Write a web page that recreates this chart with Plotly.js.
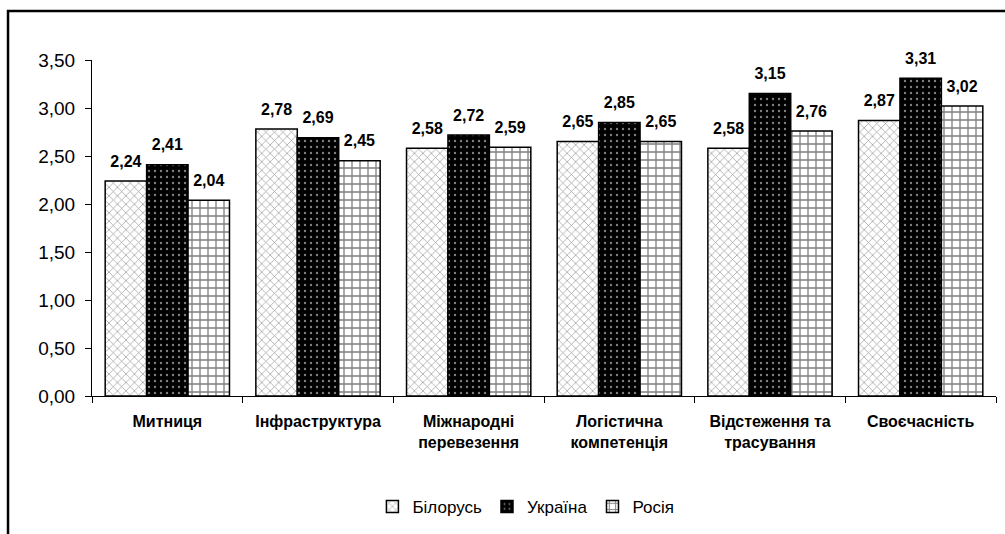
<!DOCTYPE html>
<html>
<head>
<meta charset="utf-8">
<script src="https://cdn.plot.ly/plotly-3.0.1.min.js"></script>
<style>
  html, body { margin: 0; padding: 0; background: #fff; }
  #chart { width: 1005px; height: 534px; }
</style>
</head>
<body>
<div id="chart"></div>
<script>
const categories = ["Митниця", "Інфраструктура", "Міжнародні<br>перевезення", "Логістична<br>компетенція", "Відстеження та<br>трасування", "Своєчасність"];
const seriesNames = ["Білорусь", "Україна", "Росія"];
const belarus = [2.24, 2.78, 2.58, 2.65, 2.58, 2.87];
const ukraine = [2.41, 2.69, 2.72, 2.85, 3.15, 3.31];
const russia  = [2.04, 2.45, 2.59, 2.65, 2.76, 3.02];
const yTicks = [0, 0.5, 1, 1.5, 2, 2.5, 3, 3.5];

const REG = "Liberation Sans, Arial, sans-serif";

function barTrace(name, values, color, pattern, group) {
  return {
    type: "bar",
    name: name,
    x: categories,
    y: values,
    offsetgroup: group,
    marker: {color: color, line: {color: "#000", width: 1.5}, pattern: pattern},
    hoverinfo: "x+y+name"
  };
}
function labelTrace(values, group) {
  return {
    type: "scatter",
    mode: "markers+text",
    x: categories,
    y: values,
    offsetgroup: group,
    marker: {size: 15, color: "rgba(0,0,0,0)"},
    texttemplate: "%{y:.2f}",
    textposition: "top center",
    textfont: {family: REG, size: 16, color: "#000", weight: "bold"},
    cliponaxis: false,
    showlegend: false,
    hoverinfo: "skip"
  };
}

const data = [
  barTrace(seriesNames[0], belarus, "#ffffff", {shape: "x", fgcolor: "#333", size: 6, solidity: 0.22, fillmode: "overlay"}, "a"),
  barTrace(seriesNames[1], ukraine, "#000000", {shape: ".", fgcolor: "#ffffff", size: 6, solidity: 0.12, fillmode: "overlay"}, "b"),
  barTrace(seriesNames[2], russia, "#ffffff", {shape: "+", fgcolor: "#000", size: 8, solidity: 0.3, fillmode: "overlay"}, "c"),
  labelTrace(belarus, "a"),
  labelTrace(ukraine, "b"),
  labelTrace(russia, "c")
];

const layout = {
  width: 1005, height: 534,
  margin: {l: 92, r: 9, t: 60, b: 138},
  paper_bgcolor: "#fff", plot_bgcolor: "#fff",
  separators: ", ",
  barmode: "group",
  bargap: 0.175,
  bargroupgap: 0,
  scattermode: "group",
  scattergap: 0.175,
  showlegend: true,
  font: {family: REG, color: "#000"},
  xaxis: {
    type: "category",
    showline: true, linecolor: "#000", linewidth: 1,
    ticks: "outside", tickson: "boundaries", ticklen: 6, tickcolor: "#000",
    tickfont: {family: REG, size: 16, color: "#000", weight: "bold"},
    tickangle: 0,
    ticklabelstandoff: 11,
    showgrid: false, zeroline: false, fixedrange: true
  },
  yaxis: {
    range: [0, 3.5],
    tickvals: yTicks,
    tickformat: ".2f",
    showline: true, linecolor: "#000", linewidth: 1,
    ticks: "outside", ticklen: 6, tickcolor: "#000",
    tickfont: {family: REG, size: 19, color: "#000"},
    ticklabelstandoff: 6,
    showgrid: false, zeroline: false, fixedrange: true
  },
  legend: {
    orientation: "h",
    x: 0.48, xanchor: "center",
    y: -0.33, yanchor: "middle",
    font: {family: REG, size: 17, color: "#000"},
    itemwidth: 30,
    traceorder: "normal"
  },
  shapes: [{
    type: "rect", xref: "paper", yref: "paper",
    x0: -0.0929, x1: 1.2, y0: -0.6, y1: 1.1458,
    line: {color: "#000", width: 2.5}, fillcolor: "rgba(0,0,0,0)", layer: "above"
  }]
};

Plotly.newPlot("chart", data, layout, {displayModeBar: false, staticPlot: true});
</script>
</body>
</html>
